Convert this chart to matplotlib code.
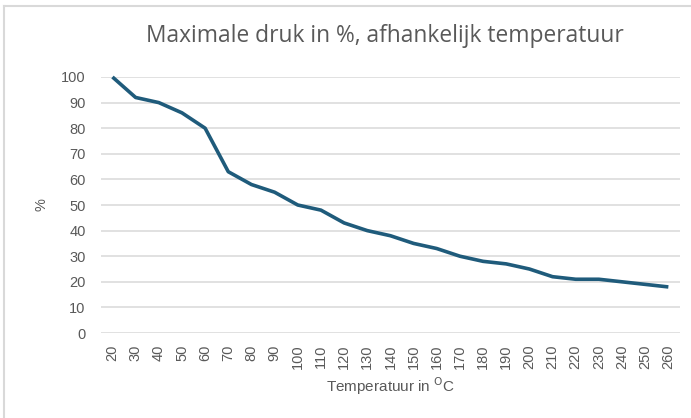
import matplotlib.pyplot as plt
from matplotlib.lines import Line2D

# pressure rating vs temperature
temps = [20, 30, 40, 50, 60, 70, 80, 90, 100, 110, 120, 130, 140, 150, 160,
         170, 180, 190, 200, 210, 220, 230, 240, 250, 260]
druk = [100, 92, 90, 86, 80, 63, 58, 55, 50, 48, 43, 40, 38, 35, 33,
        30, 28, 27, 25, 22, 21, 21, 20, 19, 18]
y_ticks = list(range(0, 101, 10))

grey = "#595959"
plt.rcParams["font.family"] = ["Liberation Sans", "DejaVu Sans"]

fig = plt.figure(figsize=(6.91, 4.18), dpi=100)
ax = fig.add_axes([0.146, 0.2033, 0.838, 0.6125])

pos = range(len(temps))
ax.plot(pos, druk, color="#1F5B7B", lw=2.6, solid_joinstyle="round",
        solid_capstyle="butt", clip_on=False, zorder=3)

ax.set_xlim(-0.5, len(temps) - 0.5)
ax.set_ylim(0, 100)
ax.set_yticks(y_ticks)
ax.set_xticks(list(pos))
ax.set_xticklabels([str(t) for t in temps], rotation=90)
ax.tick_params(axis="both", length=0, labelsize=10.5, colors=grey)
ax.tick_params(axis="x", pad=8)
ax.tick_params(axis="y", pad=11)
ax.grid(axis="y", color="#D9D9D9", lw=1.1)
ax.set_axisbelow(True)
for s in ax.spines.values():
    s.set_visible(False)

ax.set_ylabel("%", color=grey, fontsize=10.5, labelpad=9)
ax.set_xlabel(r"Temperatuur in $^{\mathrm{O}}$C", color=grey, fontsize=11,
              labelpad=5)

fig.text(0.557, 0.915, "Maximale druk in %, afhankelijk temperatuur",
         ha="center", va="center", fontsize=16.4, color=grey,
         family=["Open Sans", "DejaVu Sans"])

# chart frame (left and top edges)
fig.add_artist(Line2D([0.006, 0.006], [0.0, 0.986], color="#D9D9D9", lw=1.5))
fig.add_artist(Line2D([0.006, 1.0], [0.986, 0.986], color="#D9D9D9", lw=1.5))

fig.savefig("out.png", dpi=100)
